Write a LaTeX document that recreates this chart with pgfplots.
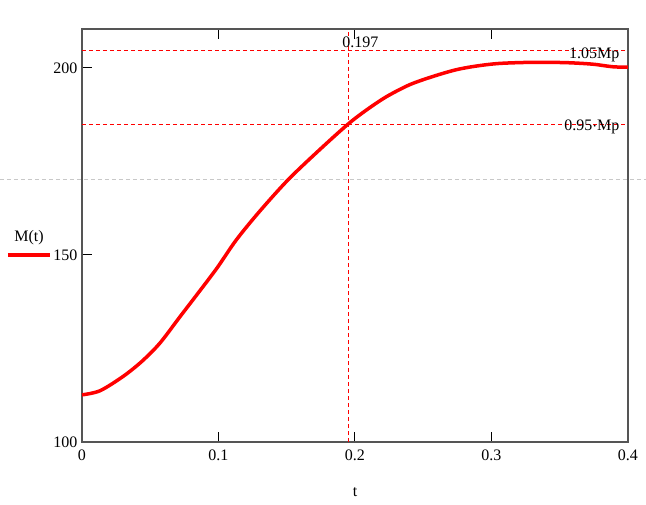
\documentclass[border=0pt]{standalone}
\usepackage{pgfplots}
\pgfplotsset{compat=1.18}
\usepackage{fontspec}
\setmainfont{Liberation Serif}
\definecolor{axgray}{RGB}{85,85,85}
\definecolor{lgray}{RGB}{200,200,200}
\begin{document}
\fontsize{16}{19}\selectfont
\begin{tikzpicture}
\begin{axis}[
  scale only axis,
  width=546pt, height=413pt,
  xmin=0, xmax=0.4, ymin=100, ymax=210.4,
  xtick={0,0.1,0.2,0.3,0.4},
  xticklabels={0,0.1,0.2,0.3,0.4},
  ytick={100,150,200},
  xtick pos=both, ytick pos=left,
  tick align=inside,
  major tick length=10pt,
  axis line style={axgray, line width=1.3pt},
  tick style={black, line width=1pt},
  xticklabel style={font=\fontsize{16}{19}\selectfont, yshift=-2pt},
  yticklabel style={font=\fontsize{16}{19}\selectfont, xshift=1pt},
  /pgf/number format/assume math mode=true,
  xlabel={t},
  xlabel style={at={(axis description cs:0.5,0)}, anchor=center, yshift=-50pt, font=\fontsize{16}{19}\selectfont},
  clip=false,
]
% gray dashed line across the whole picture
\addplot[lgray, line width=1pt, dash pattern=on 4pt off 3pt] coordinates {(-0.0601,170.05) (0.4132,170.05)};
% red dashed guide lines
\addplot[red, line width=0.8pt, dash pattern=on 4pt off 3pt] coordinates {(0,204.55) (0.4,204.55)};
\addplot[red, line width=0.8pt, dash pattern=on 4pt off 3pt] coordinates {(0,185.03) (0.4,185.03)};
\addplot[red, line width=0.8pt, dash pattern=on 4pt off 3pt] coordinates {(0.1949,100) (0.1949,210.4)};
% M(t)
\addplot[red, line width=3.5pt, smooth] coordinates {
(0,112.6) (0.0132,113.7) (0.030,117.5) (0.0437,121.5) (0.057,126.4)
(0.0718,133.5) (0.084,139.3) (0.0987,146.4) (0.113,154.0) (0.130,161.6)
(0.151,170.1) (0.174,178.1) (0.195,185.0) (0.2086,188.8) (0.223,192.3)
(0.240,195.5) (0.257,197.7) (0.274,199.5) (0.289,200.5) (0.306,201.2)
(0.331,201.5) (0.355,201.4) (0.374,201.0) (0.389,200.3) (0.4,200.2)};
\node[font=\fontsize{16}{19}\selectfont] at (axis cs:0.204,206.95) {0.197};
\node[font=\fontsize{16}{19}\selectfont, anchor=east] at (axis cs:0.3978,203.6) {1.05Mp};
\node[font=\fontsize{16}{19}\selectfont, anchor=east] at (axis cs:0.3978,184.3) {0.95$\cdot$Mp};
\end{axis}
\node[font=\fontsize{16}{19}\selectfont] at (-53pt,204pt) {M(t)};
\draw[red, line width=3.5pt] (-74pt,187pt) -- (-32pt,187pt);
\pgfresetboundingbox
\path (-82pt,-62pt) rectangle (564pt,442pt);
\end{tikzpicture}
\end{document}
